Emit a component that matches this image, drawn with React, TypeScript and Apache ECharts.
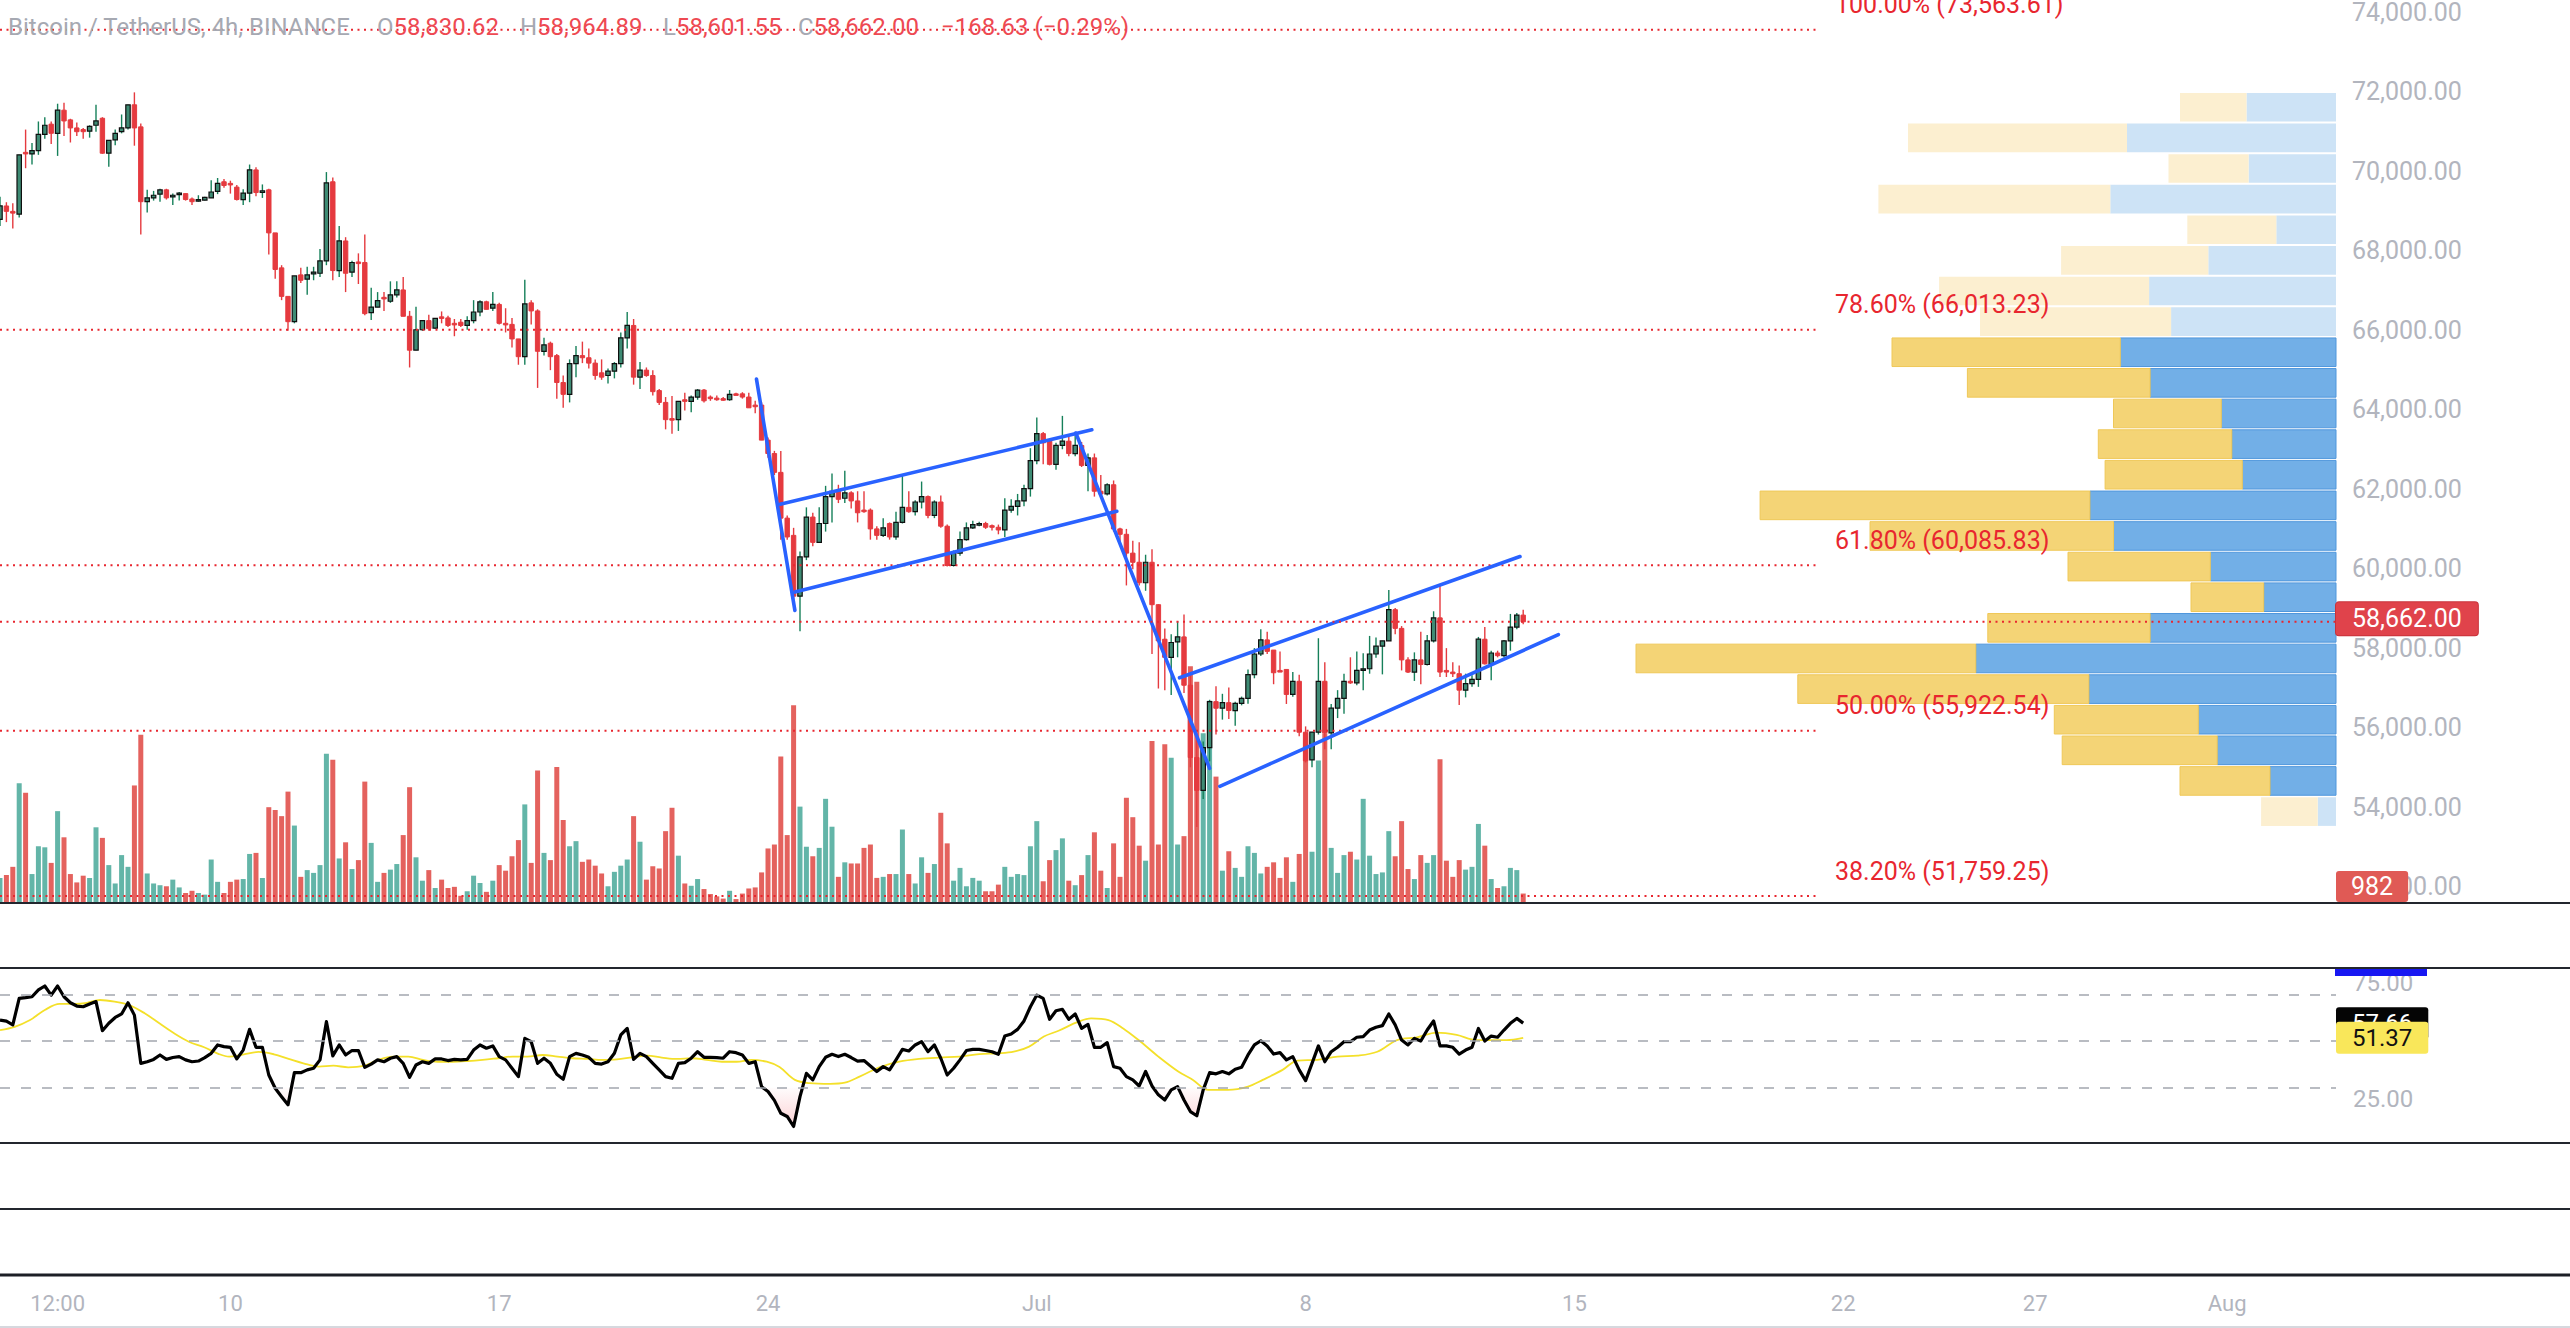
import React, { useEffect, useRef } from "react";
import * as echarts from "echarts";

// ---------- time scale (4h slots, slot 0 = Jun 4 00:00, slot 365 = right edge) ----------
const SLOTS = 365;
const timeTickIndex = [9, 36, 78, 120, 162, 204, 246, 288, 318, 348];
const timeTickText = ["12:00", "10", "17", "24", "Jul", "8", "15", "22", "27", "Aug"];

// ---------- price axis ----------
const PRICE_MIN = 51584;
const PRICE_MAX = 74184;
const priceTicks = [52000, 54000, 56000, 58000, 60000, 62000, 64000, 66000, 68000, 70000, 72000, 74000];

// ---------- BTCUSDT 4h candles ----------
const opens = [
  68791, 69130, 68994, 68926, 70480, 70440, 70525, 70932, 71189, 70959,
  71541, 71297, 71094, 71053, 71013, 71162, 71338, 70458, 70795, 71000,
  71094, 71677, 71121, 69238, 69333, 69428, 69536, 69373, 69428, 69441,
  69306, 69265, 69278, 69333, 69495, 69739, 69699, 69604, 69292, 69454,
  70038, 69495, 69536, 68452, 67572, 66854, 66217, 67395, 67287, 67436,
  67436, 67748, 69739, 67504, 68249, 67463, 67720, 67707, 66447, 66583,
  66830, 66732, 66894, 67016, 66353, 65499, 66014, 66244, 66055, 66339,
  66312, 66176, 66203, 66122, 66244, 66461, 66718, 66556, 66651, 66176,
  66149, 65783, 65336, 66691, 66488, 65472, 65675, 65363, 64686, 64388,
  65160, 65363, 65309, 65174, 64930, 64862, 64971, 65160, 65810, 66122,
  64821, 64997, 64862, 64483, 64185, 63778, 63751, 64252, 64212, 64320,
  64496, 64320, 64293, 64280, 64252, 64401, 64401, 64320, 64117, 64117,
  63236, 62898, 62424, 61272, 60838, 59307, 60296, 61299, 60662, 61137,
  61814, 61949, 61773, 61909, 61705, 61475, 61475, 61001, 60838, 61137,
  60798, 61164, 61543, 61434, 61678, 61814, 61340, 61678, 61069, 60080,
  60391, 60730, 61028, 61110, 61137, 61082, 61042, 60974, 61475, 61570,
  61705, 62017, 62721, 63399, 63209, 62626, 63101, 63209, 62898, 63101,
  62599, 62789, 61949, 61881, 62112, 61001, 60865, 60391, 60161, 59646,
  60161, 59093, 58224, 57769, 58158, 58282, 57066, 55246, 54419, 55494,
  56652, 56487, 56627, 56429, 56611, 56735, 57331, 57852, 58207, 57951,
  57438, 57463, 56834, 57165, 55883, 55188, 55883, 57165, 55866, 56487,
  56735, 57165, 57124, 57438, 57480, 57852, 58050, 58183, 58968, 58497,
  57703, 57397, 57703, 57587, 58183, 58762, 57438, 57397, 57356, 56942,
  57108, 57215, 58224, 57604, 57877, 57810, 58183, 58530, 58830.62,
];
const highs = [
  69360, 69224, 69197, 70420, 71053, 70715, 71257, 71365, 71257, 71704,
  71731, 71325, 71230, 71094, 71162, 71677, 71365, 70783, 71053, 71433,
  71677, 71990, 71203, 69536, 69509, 69563, 69563, 69441, 69482, 69441,
  69346, 69400, 69360, 69780, 69834, 69807, 69766, 69658, 69550, 70173,
  70105, 69672, 69563, 68452, 67639, 66854, 67369, 67572, 67599, 67599,
  68046, 69983, 69848, 68628, 68344, 67748, 67937, 68411, 67070, 66962,
  66962, 67233, 67233, 67341, 66488, 66596, 66244, 66393, 66298, 66475,
  66366, 66285, 66285, 66353, 66759, 66759, 66745, 66962, 66691, 66556,
  66312, 65783, 67273, 66759, 66528, 65810, 65715, 65404, 64862, 65268,
  65607, 65715, 65539, 65268, 65268, 65038, 65201, 65946, 66461, 66285,
  65201, 65065, 64997, 64523, 64320, 64347, 64212, 64428, 64360, 64523,
  64523, 64360, 64360, 64320, 64496, 64428, 64442, 64428, 64225, 64185,
  63304, 62965, 62965, 61340, 61028, 60432, 61543, 61407, 61543, 62085,
  62396, 62112, 62464, 61949, 61949, 61949, 61516, 61069, 61272, 61164,
  61434, 62356, 61949, 61720, 62193, 61841, 61720, 61841, 61110, 60459,
  60933, 61164, 61204, 61180, 61180, 61110, 61110, 61773, 61746, 61881,
  62112, 63033, 63805, 63440, 63236, 63168, 63846, 63372, 63372, 63190,
  62898, 62898, 62356, 62150, 62220, 61028, 61001, 60703, 60662, 60351,
  60486, 59104, 58495, 58348, 58679, 58844, 57314, 55700, 55650, 56700,
  57041, 56850, 57008, 56650, 56780, 57463, 58000, 58472, 58414, 57951,
  57918, 57463, 57397, 57331, 56030, 55883, 58249, 57645, 56594, 56942,
  57355, 57769, 57918, 57868, 58307, 58265, 58183, 59465, 59010, 58555,
  57770, 57893, 58414, 58331, 58927, 59589, 58000, 57645, 57562, 57356,
  57314, 58282, 58530, 57935, 57935, 58207, 58861, 58886, 58964.89,
];
const lows = [
  68628, 68723, 68560, 68840, 70080, 70173, 70417, 70823, 70688, 70390,
  70891, 70728, 70891, 70823, 70850, 71000, 70444, 70119, 70661, 70958,
  71053, 70647, 68411, 68967, 69265, 69238, 69292, 69157, 69265, 69265,
  69157, 69238, 69265, 69333, 69428, 69590, 69441, 69265, 69157, 69225,
  69373, 69333, 67910, 67301, 66759, 65986, 66176, 67192, 66894, 67260,
  67341, 67639, 67260, 67341, 66962, 67341, 67165, 66380, 66258, 66583,
  66488, 66691, 66827, 66353, 65065, 65499, 65986, 65986, 66030, 66176,
  66082, 65851, 66082, 66014, 66176, 66353, 66528, 66488, 66149, 65946,
  65566, 65133, 65133, 66149, 64550, 65363, 64997, 64279, 64049, 64185,
  64821, 65174, 65038, 64754, 64754, 64659, 64790, 65065, 65539, 64632,
  64523, 64830, 64361, 64117, 63507, 63399, 63467, 63981, 63940, 64252,
  64185, 64225, 64225, 64225, 64225, 64374, 64280, 64049, 63914, 63236,
  62789, 62356, 60730, 60730, 59240, 58427, 60215, 60567, 60662, 60933,
  61164, 61651, 61651, 61516, 61164, 61407, 60730, 60730, 60798, 60730,
  60730, 61137, 61407, 61340, 61516, 61272, 61272, 61028, 60053, 60053,
  60323, 60703, 61001, 61070, 61001, 60960, 60865, 60798, 61407, 61340,
  61570, 61814, 62626, 62626, 62599, 62491, 63006, 62830, 62830, 62559,
  61949, 61814, 61814, 61841, 60933, 60594, 59578, 59985, 59578, 59443,
  57852, 56983, 56937, 56818, 57769, 56869, 55000, 53500, 54200, 55150,
  55825, 56200, 56214, 56048, 56560, 56600, 57240, 57800, 57850, 57091,
  57397, 56594, 56774, 55784, 55122, 55000, 55825, 55453, 55453, 56239,
  56346, 57100, 57066, 56942, 57356, 57760, 57339, 58183, 58348, 57438,
  57372, 57174, 57091, 57562, 58141, 57273, 57273, 57273, 56570, 56760,
  57025, 57025, 57588, 57190, 57768, 57768, 57935, 58472, 58601.55,
];
const closes = [
  69130, 68994, 68950, 70417, 70440, 70525, 70932, 71162, 70959, 71541,
  71270, 71094, 71000, 71000, 71135, 71270, 70458, 70783, 70958, 71094,
  71677, 71094, 69238, 69333, 69400, 69536, 69333, 69400, 69454, 69292,
  69238, 69292, 69346, 69482, 69699, 69645, 69672, 69292, 69454, 70038,
  69468, 69509, 68452, 67531, 66854, 66217, 67369, 67260, 67395, 67463,
  67748, 69712, 67504, 68249, 67436, 67707, 67700, 66420, 66583, 66745,
  66790, 66894, 67016, 66353, 65499, 66014, 66244, 66041, 66298, 66312,
  66122, 66163, 66122, 66244, 66461, 66718, 66528, 66651, 66176, 66149,
  65783, 65336, 66664, 66488, 65472, 65634, 65336, 64686, 64388, 65160,
  65363, 65309, 65174, 64862, 64821, 64971, 65160, 65810, 66122, 64821,
  64997, 64862, 64456, 64185, 63751, 63751, 64212, 64212, 64320, 64496,
  64225, 64293, 64266, 64252, 64388, 64374, 64320, 64049, 64090, 63236,
  62898, 62424, 61272, 60798, 59307, 60296, 61299, 60662, 61137, 61814,
  61949, 61746, 61909, 61705, 61407, 61434, 61001, 60838, 61028, 60798,
  61164, 61543, 61434, 61678, 61814, 61340, 61678, 61069, 60080, 60391,
  60730, 61028, 61110, 61137, 61042, 61042, 60974, 61475, 61570, 61705,
  62017, 62721, 63399, 63168, 62626, 63101, 63209, 62898, 63101, 62599,
  62789, 61949, 61881, 62112, 61001, 60865, 60391, 60161, 59646, 60161,
  59093, 58183, 57769, 58141, 58282, 57066, 55246, 54419, 55494, 56652,
  56487, 56627, 56429, 56611, 56735, 57331, 57852, 58207, 57918, 57380,
  57397, 56834, 57165, 55883, 55163, 55883, 57165, 55866, 56487, 56735,
  57165, 57124, 57438, 57480, 57852, 58050, 58183, 58968, 58497, 57703,
  57397, 57703, 57587, 58183, 58762, 57397, 57397, 57356, 56942, 57108,
  57215, 58224, 57604, 57877, 57810, 58183, 58530, 58830.63, 58662.0,
];
const volumes = [
  2600, 2900, 3760, 12450, 11460, 3010, 5900, 5790, 4170, 9550,
  6830, 3010, 2140, 2840, 2600, 7870, 6770, 3940, 2030, 4980,
  3760, 12220, 17490, 3070, 2030, 1850, 1740, 2430, 1620, 1040,
  1270, 1040, 870, 4520, 2200, 1040, 2200, 2430, 2490, 5100,
  5210, 2600, 9960, 9670, 9030, 11580, 8050, 2720, 3420, 3130,
  3940, 15520, 14880, 4630, 6310, 3530, 4460, 12620, 6250, 2200,
  3130, 3470, 4050, 7060, 12040, 4750, 2320, 3420, 1560, 2430,
  1560, 1680, 750, 1220, 2840, 2080, 1160, 2320, 3940, 3360,
  4860, 6540, 10250, 4170, 13780, 5210, 4460, 14130, 8630, 5900,
  6430, 4280, 4520, 3880, 3070, 1740, 3240, 3880, 4520, 9030,
  6370, 2430, 3820, 3590, 7470, 9900, 4920, 2030, 1790, 2490,
  1450, 930, 690, 460, 1270, 410, 980, 1510, 1620, 3180,
  5670, 6080, 15230, 7060, 20550, 10020, 5850, 4860, 5730, 10830,
  7930, 2720, 4230, 4110, 4110, 5730, 6080, 2610, 2720, 3010,
  3010, 7640, 3010, 2030, 4750, 3130, 4050, 9380, 6200, 2320,
  3650, 1740, 2610, 2320, 1220, 1220, 1910, 3760, 2720, 3010,
  2900, 5900, 8510, 2260, 4460, 5500, 6720, 2320, 1850, 2900,
  4980, 7350, 3360, 1560, 6200, 2720, 10940, 8920, 5960, 4400,
  16850, 6080, 16500, 15110, 6080, 6950, 24600, 22990, 17660, 21020,
  13140, 3360, 5380, 3650, 2720, 5900, 5210, 3070, 3760, 4230,
  2610, 4750, 2200, 5100, 17660, 5330, 14820, 17660, 5730, 3130,
  4980, 5330, 4520, 10830, 4920, 3010, 3180, 7470, 4860, 8510,
  3530, 2490, 4980, 4170, 4980, 14940, 4400, 2720, 4460, 3470,
  3760, 8220, 5960, 2490, 1560, 1740, 3650, 3420, 982,
];
const VOL_MAX = 31500;

// ---------- RSI (14) and its moving average ----------
const rsiValues = [
  59, 58.5, 56.9, 68.3, 68.6, 69, 71.9, 73.6, 69.7, 73.6,
  69, 66.4, 65, 64.7, 65.9, 66.9, 54.4, 57.6, 60.1, 61.6,
  66.4, 61.1, 40.4, 41.1, 42.1, 44, 42.1, 42.9, 43.3, 41.9,
  41.1, 41.4, 42.9, 44.7, 48.3, 47.6, 47.3, 42.3, 46.1, 55,
  47.3, 47.3, 35.4, 29.7, 26.1, 22.6, 36.4, 36.4, 37.6, 38.3,
  41.9, 58.3, 43.6, 48.3, 44, 45.9, 45.9, 38.7, 40.1, 41.9,
  41.1, 42.6, 43.3, 40.4, 34.4, 39.7, 41.1, 40.4, 42.3, 42.3,
  41.6, 42.1, 41.9, 42.1, 46.1, 48.3, 46.9, 47.9, 43.3, 41.9,
  38.3, 34.7, 51.1, 49.7, 40.4, 42.6, 40.4, 35.7, 33.6, 43.3,
  44.7, 44, 43, 40.4, 40.1, 41.1, 44.7, 52.6, 55.4, 42.1,
  44.7, 43.3, 40.4, 37.6, 34.7, 34, 40.4, 40.7, 42.6, 45.4,
  43, 43, 42.9, 42.6, 45.4, 45, 44, 40.4, 41.1, 30.4,
  28.3, 24.5, 19, 17.6, 13.3, 26.1, 36.1, 33.3, 39, 43,
  44.3, 43.3, 44.3, 42.9, 41.4, 41.6, 39.3, 36.9, 39, 37.6,
  41.9, 46.4, 45.7, 48.3, 49.7, 45.4, 48.3, 42.6, 35.4, 38.3,
  41.9, 45.9, 46.4, 46.4, 45.9, 45.4, 44.3, 52.1, 53, 55,
  58.6, 64.7, 69.7, 68.3, 59.3, 63, 63.6, 59.3, 61.6, 55.4,
  57.1, 47.3, 47.3, 49.3, 39, 38.3, 34.7, 33.3, 30.7, 36.9,
  30.7, 26.9, 24.7, 29, 30.4, 24.7, 19.7, 17.9, 29, 36.4,
  35.9, 36.9, 35.9, 37.9, 38.7, 44, 48.3, 50.1, 47.9, 44.4,
  45, 41.9, 43.3, 37.6, 33, 40.4, 47.9, 41.1, 45.4, 47.3,
  49.7, 49.7, 51.6, 51.9, 54.7, 55.9, 56.6, 61.6, 56.9, 50.4,
  48.3, 51.1, 50, 54.7, 58.6, 47.9, 47.9, 47.3, 44.4, 46.1,
  47.3, 55.4, 50, 52.1, 51.6, 54.7, 57.6, 59.7, 57.66,
];
const rsiMaIndex = [
  0, 2.3, 4.7, 7, 9.3, 11.7, 13.6, 15.6, 17.9, 20.2, 22.6, 24.9, 27.2, 29.5, 31.9, 34.2, 35.8, 38.1, 40.4, 42.8,
  45.1, 47.4, 49.8, 52.1, 54.4, 56.8, 59.1, 61.4, 63.8, 66.1, 68.4, 70.8, 73.1, 75.4, 77.8, 80.1, 82.4, 84.8, 87.1, 89.4,
  91.8, 94.1, 96.4, 98.8, 101.1, 103.4, 105.8, 108.1, 110.4, 112.8, 115.1, 117.4, 119.8, 121.8, 124.2, 126.5, 129.7, 132, 134.3, 137.4,
  140.5, 143.6, 146.8, 149.9, 153, 156.1, 158.4, 160.8, 163.1, 165.4, 168.5, 170.5, 173.2, 175.5, 177.9, 181, 184.1, 186.4, 188.8, 191.9,
  195, 197.3, 200.4, 202.7, 205.9, 209, 212.1, 215.2, 218.3, 221.4, 224.5, 227.6, 230.7, 233.1, 235.4, 238,
];
const rsiMaValues = [
  54.7, 56.1, 59, 63.3, 65.9, 65.9, 66.4, 67.6, 66.9, 65.4, 61.9, 57.6, 53.3, 49.7, 47.3, 44.4, 43.3, 44.3, 45.3, 44.3,
  42.3, 40.4, 39, 39.4, 38.7, 39.3, 41.9, 43.3, 43.3, 41.9, 41.1, 41.1, 41.4, 41.9, 42.6, 43.3, 43.3, 44, 43.3, 42.6,
  42.3, 41.9, 42.1, 43, 43.7, 42.9, 42.3, 42.6, 41.9, 41.1, 41.1, 41.9, 41.1, 38.8, 33.3, 31.9, 31.6, 32.1, 34.7, 38.7,
  41.1, 42.3, 42.9, 43.3, 44.4, 44.7, 45.4, 47.6, 51.9, 54.4, 58.3, 59.7, 59, 55.4, 50.4, 43.3, 36.9, 33.3, 29, 29,
  30.4, 33.3, 37.6, 41.6, 41.9, 43.3, 43.7, 45.4, 50.4, 51.6, 53.6, 52.6, 50.4, 50.4, 50.4, 51.37,
];
const RSI_MIN = 6.22;
const RSI_MAX = 81.33;
const rsiTicks = [25, 75];
const rsiBands = [70, 50, 30];
const RSI_OVERSOLD = 30;

// ---------- Fibonacci retracement ----------
const fibRatios = [1, 0.786, 0.618, 0.5, 0.382];
const fibPrices = [73563.61, 66013.23, 60085.83, 55922.54, 51759.25];
const FIB_END_SLOT = 283.75;

// ---------- Visible-range volume profile (24 rows, top to bottom) ----------
const vpRowEdges = [
  72000, 71229, 70458, 69688, 68917, 68146, 67375, 66604, 65833, 65063, 64292, 63521, 62750,
  61979, 61208, 60438, 59667, 58896, 58125, 57354, 56583, 55813, 55042, 54271, 53500,
];
const vpUpVolume = [
  17900, 41800, 17480, 45140, 11940, 25540, 37380, 32980, 43140, 37180, 22940, 20840,
  18740, 49220, 44500, 25140, 14460, 37180, 72040, 49420, 27540, 23760, 13200, 3660,
];
const vpDownVolume = [
  13300, 43800, 16020, 46380, 17800, 29440, 42000, 38220, 45660, 36540, 21560, 26700,
  27440, 65960, 48700, 28460, 14540, 32460, 67960, 58220, 28800, 31000, 18000, 11320,
];
const vpInValueArea = [0, 0, 0, 0, 0, 0, 0, 0, 1, 1, 1, 1, 1, 1, 1, 1, 1, 1, 1, 1, 1, 1, 1, 0];
const VP_AXIS_MAX = 467200;

// ---------- hand-drawn trend lines [slotA, priceA, slotB, priceB] ----------
const trendStartSlot = [118.2, 121.9, 124.2, 168.1, 184.3, 190.6];
const trendStartPrice = [64771, 61622, 59410, 63414, 57253, 54520];
const trendEndSlot = [124.2, 170.6, 174.5, 189.0, 237.5, 243.5];
const trendEndPrice = [58949, 63494, 61445, 54973, 60306, 58339];

// ---------- styling ----------
const FONT = "Roboto, 'Liberation Sans', sans-serif";
const AXIS_TEXT = "#b2b5be";
const FIB_RED = "#e8262f";
const UP_BODY = "#3e8b74";
const UP_WICK = "#16805a";
const UP_BORDER = "#0f0f0f";
const DOWN = "#e53a3f";
const VOL_UP = "#63b5a8";
const VOL_DOWN = "#e4625e";
const TREND_BLUE = "#2962ff";
const GRID_W = 2336;

const fmt2 = (v: number) =>
  v.toLocaleString("en-US", { minimumFractionDigits: 2, maximumFractionDigits: 2 });
const signed = (v: number, s: string) => (v < 0 ? "\u2212" + s : s);

function textStyle(extra: any) {
  return {
    fontFamily: FONT,
    textAlign: "left",
    textVerticalAlign: "middle",
    align: "left",
    verticalAlign: "middle",
    ...extra,
  };
}

function buildOption() {
  const last = closes.length - 1;
  const candleData = opens.map((o, i) => [i, o, highs[i], lows[i], closes[i]]);
  const volumeData = volumes.map((v, i) => [i, v, closes[i] >= opens[i] ? 1 : 0]);
  const rsiData = rsiValues.map((v, i) => [i, v]);
  const oversoldData = rsiValues.map((v, i) => [i, Math.min(v, RSI_OVERSOLD)]);
  const maData = rsiMaIndex.map((x, k) => [x, rsiMaValues[k]]);
  const vpData = vpUpVolume.map((u, k) => [vpRowEdges[k + 1], vpRowEdges[k], u, vpDownVolume[k], vpInValueArea[k]]);
  const fibData = fibPrices.map((p, k) => [FIB_END_SLOT, p, fibRatios[k]]);
  const trendData = trendStartSlot.map((s, k) => [s, trendStartPrice[k], trendEndSlot[k], trendEndPrice[k]]);

  const change = closes[last] - closes[last - 1];
  const changePct = (change / closes[last - 1]) * 100;

  const titleParts = [
    { x: 8, text: "{g|Bitcoin / TetherUS, 4h, BINANCE}" },
    { x: 377, text: `{g|O}{r|${fmt2(opens[last])}}` },
    { x: 520, text: `{g|H}{r|${fmt2(highs[last])}}` },
    { x: 663, text: `{g|L}{r|${fmt2(lows[last])}}` },
    { x: 798, text: `{g|C}{r|${fmt2(closes[last])}}` },
    {
      x: 941,
      text: `{r|${signed(change, fmt2(Math.abs(change)))} (${signed(change, Math.abs(changePct).toFixed(2))}%)}`,
    },
  ];

  const separators = [
    { y: 903, w: 2, c: "#23262e" },
    { y: 968, w: 2, c: "#23262e" },
    { y: 1143, w: 2, c: "#23262e" },
    { y: 1209, w: 2, c: "#23262e" },
    { y: 1275, w: 3, c: "#1c1f26" },
    { y: 1327, w: 2, c: "#d6d8de" },
  ];

  return {
    animation: false,
    backgroundColor: "#ffffff",
    grid: [
      { left: 0, top: 0, width: GRID_W, height: 903 },
      { left: 0, top: 600, width: GRID_W, height: 303 },
      { left: 0, top: 968, width: GRID_W, height: 175 },
      { left: 0, top: 1209, width: GRID_W, height: 66 },
    ],
    xAxis: [
      { gridIndex: 0, type: "value", min: 0, max: SLOTS, show: false },
      { gridIndex: 1, type: "value", min: 0, max: SLOTS, show: false },
      { gridIndex: 2, type: "value", min: 0, max: SLOTS, show: false },
      {
        gridIndex: 3,
        type: "value",
        min: 0,
        max: SLOTS,
        axisLine: { show: false },
        axisTick: { show: false },
        splitLine: { show: false },
        axisLabel: {
          customValues: timeTickIndex,
          formatter: (v: number) => {
            const k = timeTickIndex.indexOf(v);
            return k >= 0 ? timeTickText[k] : "";
          },
          fontSize: 22,
          fontFamily: FONT,
          color: AXIS_TEXT,
          margin: 17,
        },
      },
      { gridIndex: 0, type: "value", min: 0, max: VP_AXIS_MAX, inverse: true, show: false },
    ],
    yAxis: [
      {
        gridIndex: 0,
        type: "value",
        position: "right",
        min: PRICE_MIN,
        max: PRICE_MAX,
        axisLine: { show: false },
        axisTick: { show: false },
        splitLine: { show: false },
        axisLabel: {
          customValues: priceTicks,
          formatter: (v: number) => fmt2(v),
          fontSize: 25,
          fontFamily: FONT,
          color: AXIS_TEXT,
          margin: 16,
        },
      },
      { gridIndex: 1, type: "value", min: 0, max: VOL_MAX, show: false },
      {
        gridIndex: 2,
        type: "value",
        position: "right",
        min: RSI_MIN,
        max: RSI_MAX,
        axisLine: { show: false },
        axisTick: { show: false },
        splitLine: { show: false },
        axisLabel: {
          customValues: rsiTicks,
          formatter: (v: number) => v.toFixed(2),
          fontSize: 24,
          fontFamily: FONT,
          color: AXIS_TEXT,
          margin: 17,
        },
      },
      { gridIndex: 3, type: "value", min: 0, max: 1, show: false },
    ],
    series: [
      // volume profile
      {
        type: "custom",
        xAxisIndex: 4,
        yAxisIndex: 0,
        z: 1,
        encode: { x: [2, 3], y: [0, 1] },
        data: vpData,
        renderItem: (params: any, api: any) => {
          const lo = api.value(0);
          const hi = api.value(1);
          const up = api.value(2);
          const dn = api.value(3);
          const va = api.value(4) === 1;
          const yTop = api.coord([0, hi])[1] + 1;
          const yBot = api.coord([0, lo])[1] - 1;
          const xR = api.coord([0, lo])[0];
          const xB = api.coord([up, lo])[0];
          const xY = api.coord([up + dn, lo])[0];
          return {
            type: "group",
            children: [
              {
                type: "rect",
                shape: { x: xB, y: yTop, width: xR - xB, height: yBot - yTop },
                style: va
                  ? { fill: "#72afe7", stroke: "#4f96dc", lineWidth: 1 }
                  : { fill: "#cde3f6" },
              },
              {
                type: "rect",
                shape: { x: xY, y: yTop, width: xB - xY, height: yBot - yTop },
                style: va
                  ? { fill: "#f4d476", stroke: "#efc858", lineWidth: 1 }
                  : { fill: "#fcefd0" },
              },
            ],
          };
        },
      },
      // volume bars
      {
        type: "custom",
        xAxisIndex: 1,
        yAxisIndex: 1,
        z: 2,
        encode: { x: 0, y: 1 },
        data: volumeData,
        renderItem: (params: any, api: any) => {
          const i = api.value(0);
          const p0 = api.coord([i, 0]);
          const p1 = api.coord([i, api.value(1)]);
          return {
            type: "rect",
            shape: { x: p0[0] - 2.5, y: p1[1], width: 5, height: p0[1] - p1[1] },
            style: { fill: api.value(2) === 1 ? VOL_UP : VOL_DOWN },
          };
        },
      },
      // candles
      {
        type: "custom",
        xAxisIndex: 0,
        yAxisIndex: 0,
        z: 4,
        encode: { x: 0, y: [1, 2, 3, 4] },
        data: candleData,
        renderItem: (params: any, api: any) => {
          const i = api.value(0);
          const o = api.value(1);
          const h = api.value(2);
          const l = api.value(3);
          const c = api.value(4);
          const up = c >= o;
          const x = api.coord([i, o])[0];
          const yO = api.coord([i, o])[1];
          const yC = api.coord([i, c])[1];
          const yH = api.coord([i, h])[1];
          const yL = api.coord([i, l])[1];
          const top = Math.min(yO, yC);
          const bh = Math.max(Math.abs(yC - yO), 1.6);
          const bw = 4.4;
          return {
            type: "group",
            children: [
              {
                type: "line",
                shape: { x1: x, y1: yH, x2: x, y2: yL },
                style: { stroke: up ? UP_WICK : DOWN, lineWidth: 1.4 },
              },
              {
                type: "rect",
                shape: { x: x - bw / 2, y: top, width: bw, height: bh },
                style: up
                  ? { fill: UP_BODY, stroke: UP_BORDER, lineWidth: 1.2 }
                  : { fill: DOWN, stroke: DOWN, lineWidth: 1 },
              },
            ],
          };
        },
      },
      // fibonacci levels
      {
        type: "custom",
        xAxisIndex: 0,
        yAxisIndex: 0,
        z: 5,
        encode: { x: 0, y: 1 },
        data: fibData,
        renderItem: (params: any, api: any) => {
          const p = api.value(1);
          const r = api.value(2);
          const end = api.coord([api.value(0), p]);
          const x0 = params.coordSys.x;
          return {
            type: "group",
            children: [
              {
                type: "line",
                shape: { x1: x0, y1: end[1], x2: end[0], y2: end[1] },
                style: { stroke: FIB_RED, lineWidth: 2, lineDash: [2, 4.5] },
              },
              {
                type: "text",
                x: end[0] + 19,
                y: end[1] - 25,
                style: textStyle({
                  text: `${(r * 100).toFixed(2)}% (${fmt2(p)})`,
                  fill: FIB_RED,
                  fontSize: 25,
                }),
              },
            ],
          };
        },
      },
      // trend lines
      {
        type: "custom",
        xAxisIndex: 0,
        yAxisIndex: 0,
        z: 6,
        encode: { x: [0, 2], y: [1, 3] },
        data: trendData,
        renderItem: (params: any, api: any) => {
          const a = api.coord([api.value(0), api.value(1)]);
          const b = api.coord([api.value(2), api.value(3)]);
          return {
            type: "line",
            shape: { x1: a[0], y1: a[1], x2: b[0], y2: b[1] },
            style: { stroke: TREND_BLUE, lineWidth: 3.6, lineCap: "round" },
          };
        },
      },
      // last price line + label
      {
        type: "custom",
        xAxisIndex: 0,
        yAxisIndex: 0,
        z: 7,
        encode: { x: 0, y: 1 },
        data: [[last, closes[last]]],
        renderItem: (params: any, api: any) => {
          const y = api.coord([api.value(0), api.value(1)])[1];
          const cs = params.coordSys;
          return {
            type: "group",
            children: [
              {
                type: "line",
                shape: { x1: cs.x, y1: y, x2: cs.x + cs.width, y2: y },
                style: { stroke: FIB_RED, lineWidth: 2, lineDash: [2, 4.5] },
              },
              {
                type: "text",
                x: cs.x + cs.width,
                y: y - 3,
                style: textStyle({
                  text: fmt2(api.value(1)),
                  fill: "#ffffff",
                  fontSize: 25,
                  lineHeight: 25,
                  backgroundColor: "#e0434b",
                  borderColor: "#c9323a",
                  borderWidth: 1,
                  borderRadius: 3,
                  padding: [4, 16, 4, 16],
                }),
              },
            ],
          };
        },
      },
      // last volume label
      {
        type: "custom",
        xAxisIndex: 1,
        yAxisIndex: 1,
        z: 8,
        encode: { x: 0, y: 1 },
        data: [[last, volumes[last]]],
        renderItem: (params: any, api: any) => {
          const cs = params.coordSys;
          const yv = api.coord([api.value(0), api.value(1)])[1];
          const y = Math.min(yv, cs.y + cs.height - 16.5);
          return {
            type: "text",
            x: cs.x + cs.width,
            y,
            style: textStyle({
              text: String(api.value(1)),
              fill: "#ffffff",
              fontSize: 25,
              lineHeight: 25,
              backgroundColor: "#e05a55",
              borderRadius: 3,
              padding: [3, 15, 3, 15],
            }),
          };
        },
      },
      // RSI oversold fill
      {
        type: "line",
        xAxisIndex: 2,
        yAxisIndex: 2,
        z: 2,
        data: oversoldData,
        showSymbol: false,
        silent: true,
        lineStyle: { width: 0, opacity: 0 },
        areaStyle: {
          origin: RSI_OVERSOLD,
          color: {
            type: "linear",
            x: 0,
            y: 0,
            x2: 0,
            y2: 1,
            colorStops: [
              { offset: 0, color: "rgba(242,54,69,0.02)" },
              { offset: 1, color: "rgba(242,54,69,0.32)" },
            ],
          },
        },
      },
      // RSI line + bands
      {
        type: "line",
        xAxisIndex: 2,
        yAxisIndex: 2,
        z: 4,
        data: rsiData,
        showSymbol: false,
        lineStyle: { color: "#000000", width: 3.2, join: "round" },
        markLine: {
          silent: true,
          symbol: ["none", "none"],
          label: { show: false },
          lineStyle: { type: [10, 11], color: "#a3a6ae", width: 1.6 },
          data: rsiBands.map((v) => ({ yAxis: v })),
        },
      },
      // RSI moving average
      {
        type: "line",
        xAxisIndex: 2,
        yAxisIndex: 2,
        z: 3,
        data: maData,
        showSymbol: false,
        smooth: 0.35,
        lineStyle: { color: "#f4e02a", width: 1.8 },
      },
      // RSI value labels
      {
        type: "custom",
        xAxisIndex: 2,
        yAxisIndex: 2,
        z: 8,
        encode: { x: 0, y: 1 },
        data: [
          [last, rsiValues[last], 0],
          [last, rsiMaValues[rsiMaValues.length - 1], 1],
        ],
        renderItem: (params: any, api: any) => {
          const cs = params.coordSys;
          const y = api.coord([api.value(0), api.value(1)])[1];
          const isMa = api.value(2) === 1;
          return {
            type: "text",
            x: cs.x + cs.width,
            y,
            z2: isMa ? 10 : 5,
            style: textStyle({
              text: api.value(1).toFixed(2),
              fill: isMa ? "#111111" : "#ffffff",
              fontSize: 24,
              lineHeight: 24,
              backgroundColor: isMa ? "#f9e75a" : "#050505",
              borderRadius: 3,
              padding: [4, 16, 4, 16],
            }),
          };
        },
      },
    ],
    graphic: [
      ...titleParts.map((p) => ({
        type: "text",
        x: p.x,
        y: 27,
        z: 50,
        style: {
          text: p.text,
          textAlign: "left",
          textVerticalAlign: "middle",
          align: "left",
          verticalAlign: "middle",
          rich: {
            g: { fill: "#a6a9b2", fontSize: 24, fontFamily: FONT },
            r: { fill: "#ee4952", fontSize: 24, fontFamily: FONT },
          },
        },
      })),
      {
        type: "rect",
        z: 60,
        shape: { x: 2335, y: 968, width: 92, height: 8 },
        style: { fill: "#1717f2" },
      },
      ...separators.map((s) => ({
        type: "line",
        z: 70,
        shape: { x1: 0, y1: s.y, x2: 2570, y2: s.y },
        style: { stroke: s.c, lineWidth: s.w },
      })),
    ],
  };
}

export default function App() {
  const ref = useRef<HTMLDivElement>(null);
  useEffect(() => {
    if (!ref.current) return;
    const chart = echarts.init(ref.current, null, { renderer: "svg" });
    chart.setOption(buildOption() as any);
    return () => chart.dispose();
  }, []);
  return (
    <div
      ref={ref}
      style={{ position: "fixed", left: 0, top: 0, width: 2570, height: 1328, background: "#ffffff" }}
    />
  );
}
